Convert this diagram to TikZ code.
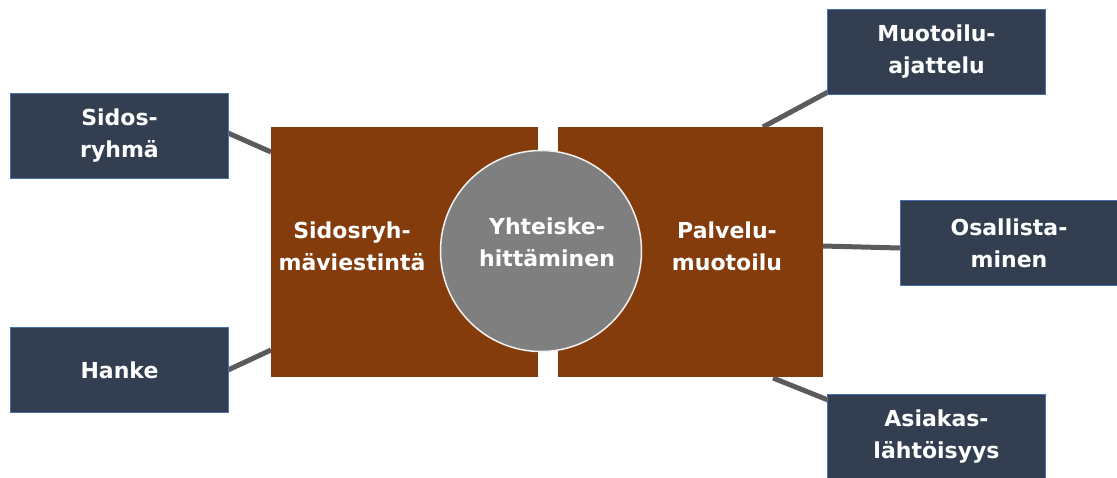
\documentclass[tikz,border=0pt]{standalone}
\usepackage{fontspec}
\setmainfont{DejaVu Sans}
\definecolor{boxfill}{HTML}{333F50}
\definecolor{boxedge}{HTML}{4A6FAE}
\definecolor{brown}{HTML}{843C0C}
\definecolor{circ}{HTML}{7F7F7F}
\definecolor{linegray}{HTML}{5B5B5B}
\begin{document}
\begin{tikzpicture}[x=1pt,y=-1pt,
  txt/.style={font=\bfseries\fontsize{22}{32}\selectfont, text=white, align=center},
  outer/.style={draw=boxedge, line width=1pt, fill=boxfill, minimum width=218pt, minimum height=85pt, txt},
  block/.style={fill=brown, minimum width=267pt, minimum height=250pt},
  conn/.style={draw=linegray, line width=5pt}]
\useasboundingbox (0,0) rectangle (1117,477);
% connector end points
\coordinate (s1) at (228,133); \coordinate (s2) at (271,152);
\coordinate (h1) at (228,370); \coordinate (h2) at (271,350);
\coordinate (m1) at (828,92);  \coordinate (m2) at (763,127);
\coordinate (o1) at (823,246); \coordinate (o2) at (900,248);
\coordinate (a1) at (773,378); \coordinate (a2) at (828,400);
\draw[conn] (s1) -- (s2);
\draw[conn] (h1) -- (h2);
\draw[conn] (m1) -- (m2);
\draw[conn] (o1) -- (o2);
\draw[conn] (a1) -- (a2);
% brown blocks
\node[block, anchor=north west] (L) at (271,127) {};
\node[block, anchor=north west, minimum width=265pt] (R) at (558,127) {};
\node[txt] (Lt) at (352,246) {Sidosryh-\\mäviestintä};
\node[txt] (Rt) at (727,246) {Palvelu-\\muotoilu};
% circle
\node[circle, fill=circ, draw=white!90!gray, line width=1.5pt, minimum size=201pt, inner sep=0pt] (C) at (541,251) {};
\node[txt] (Ct) at (547,242) {Yhteiske-\\hittäminen};
% outer boxes
\node[outer, anchor=north west] (S) at (10,93) {Sidos-\\ryhmä};
\node[outer, anchor=north west] (H) at (10,327) {Hanke};
\node[outer, anchor=north west] (M) at (827,9) {Muotoilu-\\ajattelu};
\node[outer, anchor=north west, minimum width=217pt] (O) at (900,200) {Osallista-\\minen};
\node[outer, anchor=north west, minimum height=84pt] (A) at (827,394) {Asiakas-\\lähtöisyys};
\end{tikzpicture}
\end{document}
